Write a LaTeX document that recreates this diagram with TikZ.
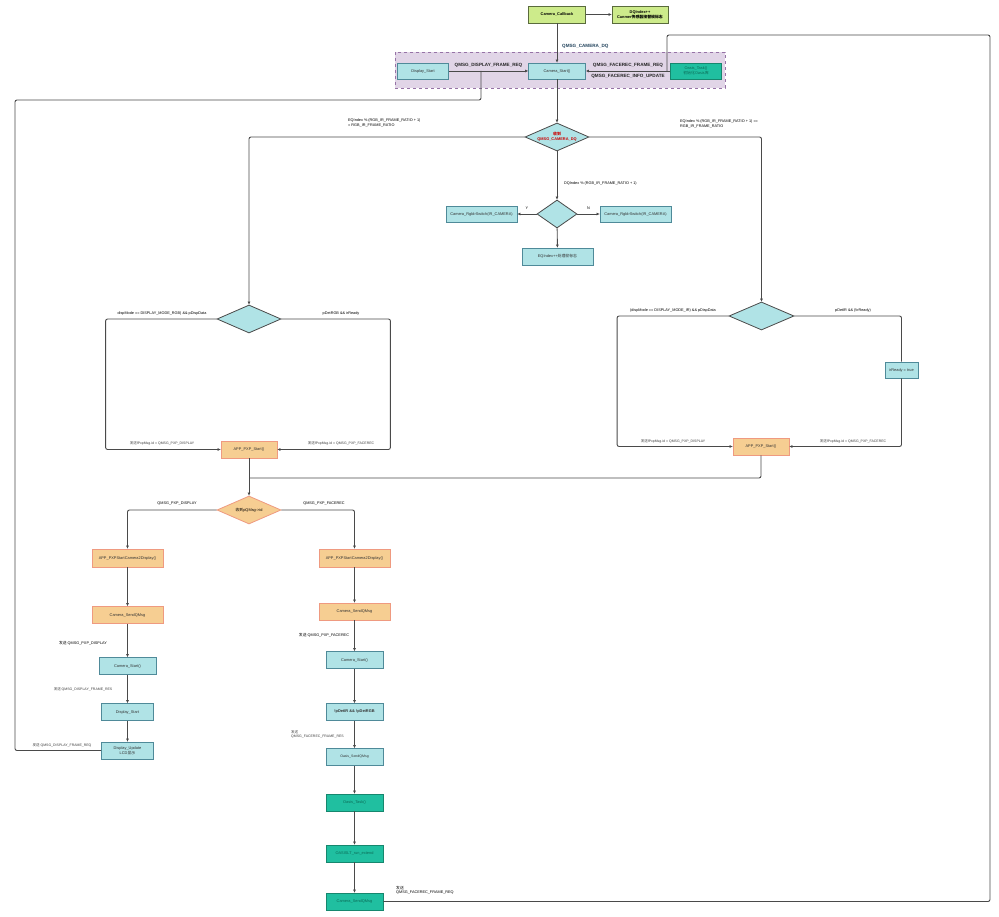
\documentclass[tikz,border=0pt]{standalone}
\usepackage{fontspec}
\setmainfont{Liberation Sans}
\newfontfamily\cjk{Noto Sans CJK SC}
\newcommand{\zhtxt}[1]{{\cjk #1}}
\newcommand{\fsbox}{\fontsize{3.9}{4.7}\selectfont}
\newcommand{\fslbl}{\fontsize{3.8}{4.5}\selectfont}
\newcommand{\fssml}{\fontsize{3.5}{4.1}\selectfont}
\newcommand{\fsbig}{\fontsize{4.6}{5.4}\selectfont}
\usetikzlibrary{shapes.geometric,arrows.meta}

\definecolor{tealfill}{HTML}{B0E3E6}
\definecolor{tealline}{HTML}{4F8A99}
\definecolor{orfill}{HTML}{F6CE92}
\definecolor{orline}{HTML}{EF9A80}
\definecolor{grfill}{HTML}{20BFA0}
\definecolor{grline}{HTML}{16876E}
\definecolor{grtext}{HTML}{0B6B57}
\definecolor{lgfill}{HTML}{CDEB8B}
\definecolor{lgline}{HTML}{5A6B3C}
\definecolor{purfill}{HTML}{E1D5E7}
\definecolor{purline}{HTML}{9673A6}
\definecolor{lncol}{HTML}{4A4A4A}
\definecolor{navy}{HTML}{23445D}

\tikzset{
  line/.style={draw=lncol, line width=0.9pt, rounded corners=2pt},
  arr/.style={line, -{Triangle[length=3pt,width=2.6pt]}},
  tbox/.style={draw=tealline, fill=tealfill, line width=0.8pt, font=\fsbox, text=black!80, align=center, inner sep=1pt},
  obox/.style={draw=orline, fill=orfill, line width=0.8pt, font=\fsbox, text=black!80, align=center, inner sep=1pt},
  gbox/.style={draw=grline, fill=grfill, line width=0.8pt, font=\fsbox, text=grtext, align=center, inner sep=1pt},
  lgbox/.style={draw=lgline, fill=lgfill, line width=0.8pt, font=\fsbox\bfseries, align=center, inner sep=1pt},
  tdia/.style={diamond, aspect=2.3, draw=lncol, fill=tealfill, line width=0.8pt, inner sep=0pt, align=center, font=\fsbox},
  odia/.style={diamond, aspect=2.3, draw=orline, fill=orfill, line width=0.8pt, inner sep=0pt, align=center, font=\fsbox},
  lbl/.style={font=\fslbl, align=left, inner sep=0pt},
  lblsml/.style={font=\fssml, text=black!75, align=left, inner sep=0pt},
  lblbig/.style={font=\fsbig\bfseries, text=black!85, inner sep=0pt}
}

\begin{document}
\begin{tikzpicture}[x=1pt, y=-1pt]
  \useasboundingbox (0,0) rectangle (999,917);
  \fill[white] (0,0) rectangle (999,917);

  % camera band
  \draw[purline, fill=purfill, dashed, line width=0.6pt] (395,52) rectangle (725,88);

  % top
  \node[lgbox, minimum width=57, minimum height=17] (cb) at (557,14.5) {Camera\_Callback};
  \node[lgbox, minimum width=56, minimum height=17] (dq) at (640,14.5) {DQIndex++\\Canmer\zhtxt{传感器接替帧标志}};
  \node[tbox, minimum width=51, minimum height=16] (ds) at (423,71) {Display\_Start};
  \node[tbox, minimum width=57, minimum height=16] (cs) at (557,71) {Camera\_Start()};
  \node[gbox, minimum width=51, minimum height=16] (ot) at (696,71) {Oasis\_Task()\\\zhtxt{初始化Oasis库}};
  \node[lblbig, text=navy, anchor=west] (lbdq) at (562,46) {QMSG\_CAMERA\_DQ};

  \draw[arr] (cb) -- (dq);
  \draw[arr] (cb) -- (cs);
  \draw[arr] (ds) -- node[lblbig, above=3pt] (lbdr) {QMSG\_DISPLAY\_FRAME\_REQ} (cs);
  \draw[arr] (ot) -- node[lblbig, above=3pt] (lbfr) {QMSG\_FACEREC\_FRAME\_REQ}
                     node[lblbig, below=3pt] (lbfu) {QMSG\_FACEREC\_INFO\_UPDATE} (cs);

  % DQ decision
  \node[tdia, minimum width=64, minimum height=28, text=red!80!black, font=\fsbox\bfseries] (d1) at (557,137) {\zhtxt{收到}\\QMSG\_CAMERA\_DQ};
  \node[tdia, aspect=1.4, minimum width=40, minimum height=28] (d4) at (557,214) {};
  \node[tbox, minimum width=71, minimum height=16] (sw1) at (481.5,214) {Camera\_RgbIrSwitch(IR\_CAMERA)};
  \node[tbox, minimum width=71, minimum height=16] (sw2) at (635.5,214) {Camera\_RgbIrSwitch(IR\_CAMERA)};
  \node[tbox, minimum width=71, minimum height=17] (eq) at (557.5,256.5) {EQIndex++\zhtxt{处理帧标志}};

  \node[lbl, anchor=north west] (lbc1) at (348,119) {EQIndex \% (RGB\_IR\_FRAME\_RATIO + 1)\\= RGB\_IR\_FRAME\_RATIO};
  \node[lbl, anchor=north west] (lbc2) at (680,120) {EQIndex \% (RGB\_IR\_FRAME\_RATIO + 1) ==\\RGB\_IR\_FRAME\_RATIO};
  \node[lbl, anchor=west] (lbc3) at (564,183.5) {DQIndex \% (RGB\_IR\_FRAME\_RATIO + 1)};

  \draw[arr] (cs) -- (d1);
  \draw[arr] (d1) -- (d4);
  \draw[arr] (d4) -- node[lbl, above=4pt] (lby) {Y} (sw1);
  \draw[arr] (d4) -- node[lbl, above=4pt] (lbn) {N} (sw2);
  \draw[arr] (d4) -- (eq);

  % RGB branch
  \node[tdia, minimum width=64, minimum height=28] (d2) at (249,319) {};
  \node[obox, minimum width=56, minimum height=17] (pxp1) at (249,449.5) {APP\_PXP\_Start()};
  \node[lbl] (lbm1) at (162,313.5) {dispMode == DISPLAY\_MODE\_RGB) \&\& pDispData};
  \node[lbl] (lbm2) at (341,313.5) {pDetRGB \&\& irReady};
  \node[lblsml] (lbs1) at (162,443.5) {\zhtxt{发送}fPxpMsg.id = QMSG\_PXP\_DISPLAY};
  \node[lblsml] (lbs2) at (341,443.5) {\zhtxt{发送}fPxpMsg.id = QMSG\_PXP\_FACEREC};

  \draw[arr] (d1.west) -| (d2.north);
  \draw[arr] (d2.west) -- ++(-111,0) |- (pxp1.west);
  \draw[arr] (d2.east) -- ++(109,0) |- (pxp1.east);

  % IR branch
  \node[tdia, minimum width=65, minimum height=28] (d3) at (761.5,316) {};
  \node[tbox, minimum width=33, minimum height=16] (irr) at (901.5,370) {irReady = true};
  \node[obox, minimum width=56, minimum height=17] (pxp2) at (761,446.5) {APP\_PXP\_Start()};
  \node[lbl] (lbm3) at (673,310.5) {(dispMode == DISPLAY\_MODE\_IR) \&\& pDispData};
  \node[lbl] (lbm4) at (853,310.5) {pDetIR \&\& (!irReady)};
  \node[lblsml] (lbs3) at (673,441) {\zhtxt{发送}fPxpMsg.id = QMSG\_PXP\_DISPLAY};
  \node[lblsml] (lbs4) at (853,441) {\zhtxt{发送}fPxpMsg.id = QMSG\_PXP\_FACEREC};

  \draw[arr] (d1.east) -| (d3.north);
  \draw[arr] (d3.west) -- ++(-111.5,0) |- (pxp2.west);
  \draw[line] (d3.east) -| (irr.north);
  \draw[arr] (irr.south) |- (pxp2.east);

  % PXP decision
  \coordinate (jp) at (249,478);
  \node[odia, minimum width=64, minimum height=28] (d5) at (249,510) {\zhtxt{收到}pQMsg->id};
  \draw[arr] (pxp1) -- (d5);
  \draw[line] (pxp2.south) |- (jp);
  \node[lbl] (lbp1) at (177,504) {QMSG\_PXP\_DISPLAY};
  \node[lbl] (lbp2) at (324,504) {QMSG\_PXP\_FACEREC};

  % display column
  \node[obox, minimum width=71, minimum height=18] (pd1) at (127.5,558) {APP\_PXPStartCamera2Display()};
  \node[obox, minimum width=71, minimum height=17] (cq1) at (127.5,615) {Camera\_SendQMsg};
  \node[tbox, minimum width=57, minimum height=17] (lcs) at (127.5,666) {Camera\_Start()};
  \node[tbox, minimum width=52, minimum height=17] (lds) at (127.5,712) {Display\_Start};
  \node[tbox, minimum width=52, minimum height=17] (du) at (127.5,750.5) {Display\_Update\\LCD\zhtxt{显示}};
  \node[lbl] (lbl1) at (83,643.5) {\zhtxt{发送} QMSG\_PXP\_DISPLAY};
  \node[lblsml] (lbl2) at (83,689.5) {\zhtxt{发送} QMSG\_DISPLAY\_FRAME\_RES};
  \node[lblsml] (lbl3) at (62,745.5) {\zhtxt{发送} QMSG\_DISPLAY\_FRAME\_REQ};

  \draw[arr] (d5.west) -| (pd1.north);
  \draw[arr] (pd1) -- (cq1);
  \draw[arr] (cq1) -- (lcs);
  \draw[arr] (lcs) -- (lds);
  \draw[arr] (lds) -- (du);

  % facerec column
  \node[obox, minimum width=71, minimum height=18] (pd2) at (354.5,558) {APP\_PXPStartCamera2Display()};
  \node[obox, minimum width=71, minimum height=17] (cq2) at (354.5,611.5) {Camera\_SendQMsg};
  \node[tbox, minimum width=57, minimum height=17] (rcs) at (354.5,660) {Camera\_Start()};
  \node[tbox, minimum width=57, minimum height=17, font=\fsbox\bfseries] (chk) at (354.5,712) {!pDetIR \&\& !pDetRGB};
  \node[tbox, minimum width=57, minimum height=17, font=\fssml] (os) at (354.5,757) {Oasis\_SendQMsg};
  \node[gbox, minimum width=57, minimum height=17] (ot2) at (354.5,802.5) {Oasis\_Task()};
  \node[gbox, minimum width=57, minimum height=17] (run) at (354.5,853.5) {OASISLT\_run\_extend};
  \node[gbox, minimum width=57, minimum height=17] (cq3) at (354.5,901.5) {Camera\_SendQMsg};
  \node[lbl] (lbr1) at (324,635.5) {\zhtxt{发送} QMSG\_PXP\_FACEREC};
  \node[lblsml, anchor=north west] (lbr2) at (291,730.5) {\zhtxt{发送}\\QMSG\_FACEREC\_FRAME\_RES};
  \node[lbl, anchor=north west] (lbr3) at (396,886) {\zhtxt{发送}\\QMSG\_FACEREC\_FRAME\_REQ};

  \draw[arr] (d5.east) -| (pd2.north);
  \draw[arr] (pd2) -- (cq2);
  \draw[arr] (cq2) -- (rcs);
  \draw[arr] (rcs) -- (chk);
  \draw[arr] (chk) -- (os);
  \draw[arr] (os) -- (ot2);
  \draw[arr] (ot2) -- (run);
  \draw[arr] (run) -- (cq3);

  % return paths
  \coordinate (jl) at (481,71);
  \coordinate (jr) at (667,71);
  \draw[line] (du.west) -| (15,100) -| (jl);
  \draw[line] (cq3.east) -| (990,35) -| (jr);
\end{tikzpicture}
\end{document}
